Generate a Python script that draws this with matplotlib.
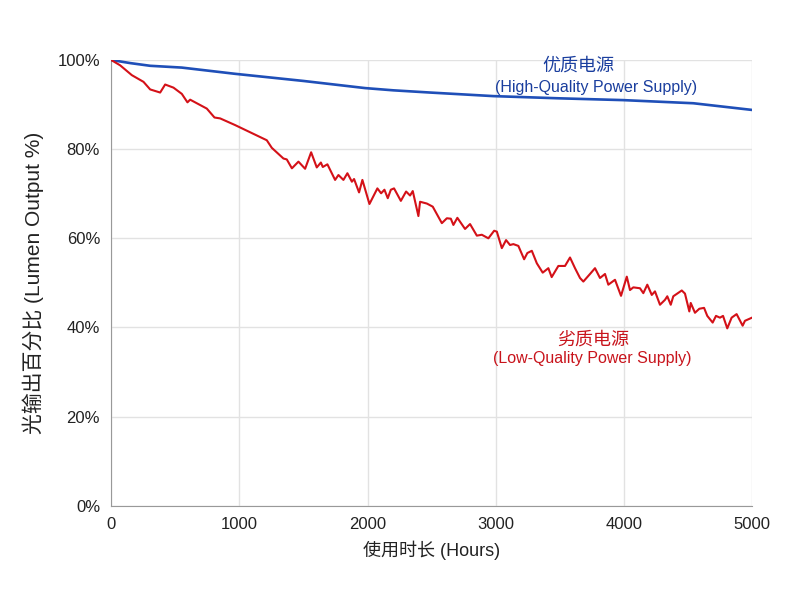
import matplotlib
matplotlib.use("Agg")
import matplotlib.pyplot as plt
from matplotlib.ticker import FuncFormatter

plt.rcParams['font.family'] = ['Liberation Sans', 'Noto Sans CJK SC', 'DejaVu Sans']

hq_hours = [0, 150, 304, 550, 967, 1500, 1981, 2200, 2488, 2982, 3500, 3996, 4542, 5000]
hq_output = [100, 99.3, 98.7, 98.3, 96.9, 95.3, 93.7, 93.2, 92.7, 91.9, 91.4, 91.0, 90.3, 88.8]

lq_hours = [0, 70, 161, 252, 304, 382, 421, 486, 551, 595, 616, 746, 806, 850, 967,
            1214, 1253, 1344, 1370, 1410, 1461, 1513, 1560, 1604, 1636, 1651, 1687,
            1747, 1773, 1812, 1843, 1878, 1895, 1934, 1960, 2015, 2077, 2106, 2132,
            2158, 2182, 2207, 2260, 2301, 2332, 2353, 2397, 2410, 2463, 2509, 2580,
            2619, 2650, 2670, 2701, 2761, 2800, 2853, 2892, 2943, 2988, 3009, 3048,
            3081, 3112, 3138, 3177, 3222, 3247, 3282, 3321, 3367, 3411, 3437, 3489,
            3541, 3580, 3619, 3658, 3684, 3736, 3775, 3814, 3853, 3879, 3931, 3978,
            4023, 4048, 4074, 4126, 4152, 4183, 4218, 4243, 4282, 4321, 4339, 4366,
            4386, 4452, 4477, 4511, 4522, 4555, 4589, 4626, 4651, 4693, 4719, 4750,
            4774, 4807, 4841, 4880, 4927, 4945, 5000]
lq_output = [100, 98.8, 96.6, 95.1, 93.4, 92.7, 94.5, 93.8, 92.4, 90.5, 91.1, 89.1, 87.1,
             86.9, 85.4, 82.0, 80.3, 77.9, 77.7, 75.7, 77.2, 75.6, 79.3, 75.9, 77.0,
             76.0, 76.6, 73.1, 74.2, 73.1, 74.6, 72.7, 73.3, 70.3, 73.1, 67.7, 71.2,
             70.1, 70.9, 69.0, 70.9, 71.2, 68.4, 70.5, 69.6, 70.6, 65.0, 68.2, 67.8,
             67.1, 63.4, 64.5, 64.4, 63.0, 64.6, 62.1, 63.2, 60.6, 60.8, 60.0, 61.7,
             61.5, 57.8, 59.6, 58.5, 58.7, 58.3, 55.3, 56.7, 57.2, 54.4, 52.3, 53.3,
             51.3, 53.8, 53.8, 55.7, 53.3, 51.1, 50.3, 52.0, 53.3, 51.1, 52.0, 49.6,
             50.7, 47.1, 51.4, 48.4, 49.0, 48.8, 47.7, 49.6, 47.3, 48.1, 45.1, 46.2,
             47.0, 45.1, 47.0, 48.3, 47.6, 43.6, 45.5, 43.3, 44.2, 44.4, 42.6, 41.1,
             42.6, 42.2, 42.6, 39.8, 42.2, 43.0, 40.4, 41.5, 42.2]

x_ticks = [0, 1000, 2000, 3000, 4000, 5000]
y_ticks = [0, 20, 40, 60, 80, 100]

hq_label = ["优质电源", "(High-Quality Power Supply)"]
lq_label = ["劣质电源", "(Low-Quality Power Supply)"]
x_label = "使用时长 (Hours)"
y_label = "光输出百分比 (Lumen Output %)"

blue = "#1f4fb8"
blue_text = "#1a3e9e"
red = "#d41118"
red_text = "#c8141c"

fig = plt.figure(figsize=(8, 6), dpi=100)
ax = fig.add_axes([0.139, 0.157, 0.801, 0.743])

ax.plot(hq_hours, hq_output, color=blue, lw=1.9, zorder=3)
ax.plot(lq_hours, lq_output, color=red, lw=1.5, zorder=3)

ax.set_xlim(0, 5000)
ax.set_ylim(0, 100)
ax.set_xticks(x_ticks)
ax.set_yticks(y_ticks)
ax.yaxis.set_major_formatter(FuncFormatter(lambda v, p: f"{int(v)}%"))
ax.grid(True, color="#e2e2e2", lw=1)
ax.set_axisbelow(True)
for s in ["top", "right"]:
    ax.spines[s].set_visible(False)
for s in ["left", "bottom"]:
    ax.spines[s].set_color("#999999")
ax.tick_params(length=0, labelsize=12, colors="#222222", pad=8)
ax.set_xlabel(x_label, fontsize=13, color="#222222", labelpad=6)
ax.set_ylabel(y_label, fontsize=15, color="#222222", labelpad=10)

ax.text(3643, 98.7, hq_label[0], color=blue_text, fontsize=13, ha="center", va="center")
ax.text(3783, 93.9, hq_label[1], color=blue_text, fontsize=11.5, ha="center", va="center")
ax.text(3760, 37.2, lq_label[0], color=red_text, fontsize=13, ha="center", va="center")
ax.text(3752, 33.0, lq_label[1], color=red_text, fontsize=11.5, ha="center", va="center")

fig.savefig("out.png", dpi=100)
